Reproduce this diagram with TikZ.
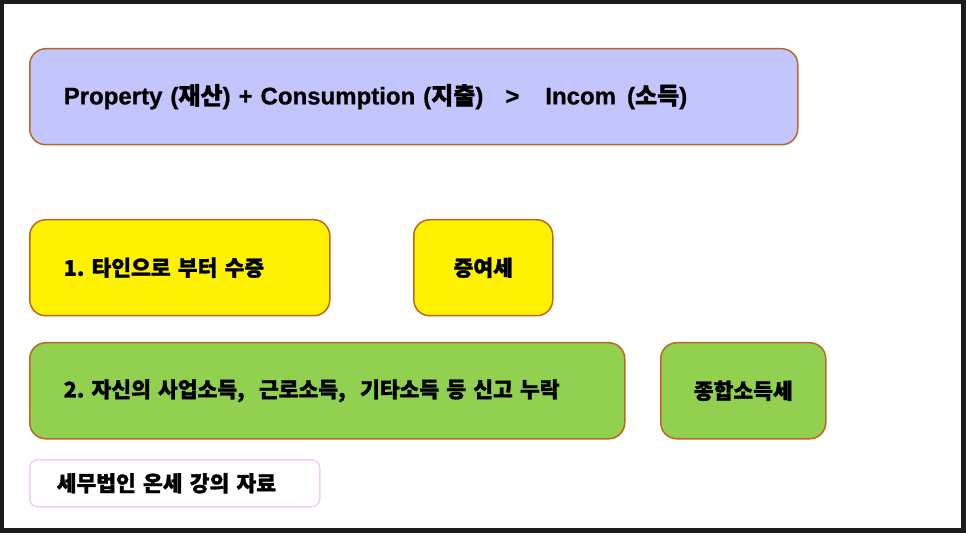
\documentclass[tikz,border=0pt]{standalone}
\usepackage{fontspec}
\setmainfont{Liberation Sans}[BoldFeatures={FakeBold=0.8}]
\newfontfamily\krfont{Noto Sans CJK KR}[BoldFeatures={FakeBold=1.3}]
\usetikzlibrary{positioning, shapes}
\definecolor{lavender}{RGB}{195,198,252}
\definecolor{rust}{RGB}{184,104,36}
\definecolor{leaf}{RGB}{146,208,80}
\definecolor{pinkline}{RGB}{240,208,240}
\definecolor{frame}{RGB}{28,28,28}
\newcommand\krtext{\krfont\fontsize{21.5}{25}\selectfont\bfseries\frenchspacing}
\tikzstyle{box} = [rectangle, rounded corners=16pt, draw=rust, line width=1.5pt, minimum height=96pt, inner sep=0pt]
\tikzstyle{wide} = [box, align=left, inner xsep=34pt, font=\krtext]
\tikzstyle{tax} = [box, align=center, font=\krtext]

\begin{document}
\begin{tikzpicture}[x=1pt,y=1pt]
      \fill [frame] (0,0) rectangle (966,533);
      \fill [white] (4,5) rectangle (961,529);

      \node (prop) [wide, fill=lavender, text width=700pt, anchor=north west, font=\fontsize{24}{28}\selectfont\bfseries] at (29,485) {Property ({\krfont 재산}) + Consumption ({\krfont 지출})\hspace{22pt}>\hspace{26pt}Incom\hspace{11pt}({\krfont 소득})};
      \node (gift) [wide, fill=yellow, text width=232pt, below=73.5pt of prop.south west, anchor=north west] {1. 타인으로 부터 수증};
      \node (giftTax) [tax, fill=yellow, minimum width=139pt, right=82.5pt of gift.north east, anchor=north west] {증여세};
      \node (income) [wide, fill=leaf, text width=527pt, below=25.5pt of gift.south west, anchor=north west] {2. 자신의 사업소득,\ \ 근로소득,\ \ 기타소득 등 신고 누락};
      \node (incomeTax) [tax, fill=leaf, minimum width=165pt, right=34.5pt of income.north east, anchor=north west] {종합소득세};
      \node (note) [wide, draw=pinkline, fill=white, text width=236pt, inner xsep=27pt, minimum height=47pt, rounded corners=8pt, below=19.5pt of income.south west, anchor=north west] {세무법인 온세 강의 자료};
    \end{tikzpicture}
\end{document}
